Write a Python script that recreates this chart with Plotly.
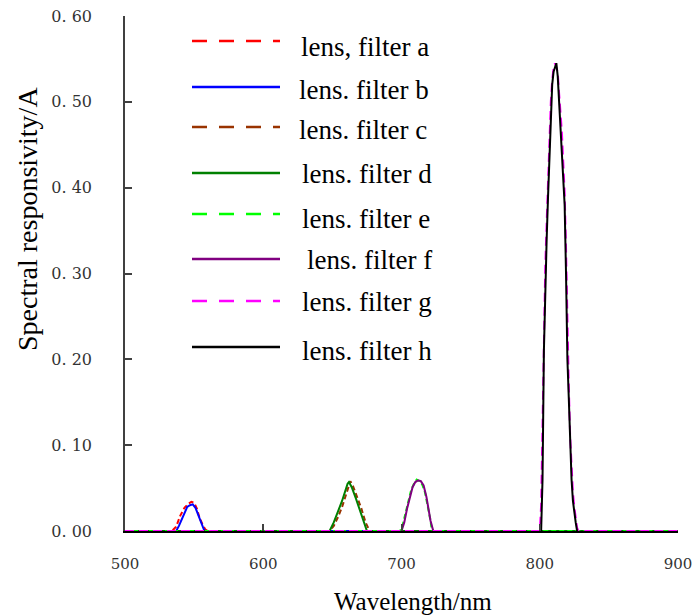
import plotly.graph_objects as go

# ---------------- data ----------------
names = ["lens, filter a", "lens. filter b", "lens. filter c", "lens. filter d",
         "lens. filter e", "lens. filter f", "lens. filter g", "lens. filter h"]

a_wl = [500, 534, 537, 540, 543, 546, 548, 550, 552, 554, 556, 558, 560, 900]
a_val = [0, 0, 0.005, 0.018, 0.027, 0.032, 0.034, 0.033, 0.026, 0.015, 0.008, 0.002, 0, 0]

b_wl = [500, 537, 539, 541, 543, 545, 547, 549, 551, 553, 555, 557, 558, 900]
b_val = [0, 0, 0.006, 0.014, 0.022, 0.028, 0.030, 0.031, 0.027, 0.018, 0.009, 0.002, 0, 0]

c_wl = [500, 648, 651, 654, 657, 660, 662, 663, 665, 668, 671, 674, 677, 900]
c_val = [0, 0, 0.006, 0.016, 0.028, 0.043, 0.054, 0.058, 0.052, 0.040, 0.026, 0.010, 0, 0]

d_wl = [500, 648, 651, 654, 657, 660, 661, 662, 664, 667, 670, 673, 675, 900]
d_val = [0, 0, 0.010, 0.022, 0.035, 0.050, 0.055, 0.057, 0.051, 0.038, 0.024, 0.009, 0, 0]

e_wl = [500, 699, 701, 703, 705, 707, 709, 711, 713, 715, 717, 719, 721, 722, 900]
e_val = [0, 0, 0.008, 0.022, 0.036, 0.048, 0.055, 0.060, 0.058, 0.054, 0.045, 0.030, 0.012, 0, 0]

f_wl = [700, 702, 704, 706, 708, 710, 712, 714, 716, 718, 720, 721, 723]
f_val = [0, 0.010, 0.026, 0.040, 0.051, 0.057, 0.059, 0.058, 0.053, 0.040, 0.022, 0.012, 0]

g_wl = [500, 800, 801, 802, 803, 804, 805, 806, 807, 808, 809, 810, 811, 812, 813, 814,
        815, 816, 817, 818, 819, 820, 821, 822, 823, 824, 825, 826, 827, 828, 900]
g_val = [0, 0, 0.03, 0.12, 0.24, 0.31, 0.36, 0.41, 0.45, 0.50, 0.525, 0.54, 0.545, 0.54,
         0.535, 0.51, 0.49, 0.465, 0.43, 0.395, 0.33, 0.24, 0.17, 0.11, 0.075, 0.045,
         0.028, 0.014, 0.004, 0, 0]

h_wl = [801, 802, 803, 804, 805, 806, 807, 808, 809, 810, 811, 812, 813, 814, 815, 816,
        817, 818, 819, 820, 821, 822, 823, 824, 825, 826, 827]
h_val = [0, 0.06, 0.21, 0.29, 0.34, 0.39, 0.435, 0.49, 0.52, 0.535, 0.54, 0.545, 0.53,
         0.50, 0.475, 0.455, 0.42, 0.38, 0.30, 0.20, 0.155, 0.10, 0.06, 0.035, 0.02, 0.01, 0]

y_tickvals = [0, 0.1, 0.2, 0.3, 0.4, 0.5, 0.6]
y_ticktext = ["0. 00", "0. 10", "0. 20", "0. 30", "0. 40", "0. 50", "0. 60"]
x_tickvals = [500, 600, 700, 800, 900]
x_ticktext = ["500", "600", "700", "800", "900"]

# ---------------- styles ----------------
series = [(a_wl, a_val), (b_wl, b_val), (c_wl, c_val), (d_wl, d_val),
          (e_wl, e_val), (f_wl, f_val), (g_wl, g_val), (h_wl, h_val)]
colors = ["#ff0000", "#0000ff", "#993300", "#008000", "#00ff00", "#800080", "#ff00ff", "#000000"]
dashes = ["15px,12px", "solid", "15px,12px", "solid", "15px,12px", "solid", "15px,12px", "solid"]
plot_dashes = ["5px,3px", "solid", "5px,3px", "solid", "5px,3px", "solid", "9px,5px", "solid"]

fig = go.Figure()
for (wl, val), nm, col, ds in zip(series, names, colors, plot_dashes):
    fig.add_trace(go.Scatter(x=wl, y=val, name=nm, mode="lines",
                             line=dict(color=col, width=2, dash=ds),
                             showlegend=False))

# ---------------- geometry (page pixels; body margin removed by post_script) ----------------
FIG_W, FIG_H = 694, 616
L, T, W, H = 125, 16, 553, 515   # plot area in pixels
def px2x(px): return (px - L) / W
def py2y(py): return (T + H - py) / H

# ---------------- custom legend (keys + labels) ----------------
line_rows = [41, 87, 127, 173, 214, 259, 301, 347]
text_rows = [47, 90, 130, 174, 219, 260, 302, 351]
text_x = [299, 297, 297, 300, 300, 305, 300, 300]
for i, nm in enumerate(names):
    fig.add_shape(type="line", xref="paper", yref="paper",
                  x0=px2x(192), x1=px2x(280), y0=py2y(line_rows[i]), y1=py2y(line_rows[i]),
                  line=dict(color=colors[i], width=2.5, dash=dashes[i]))
    fig.add_annotation(xref="paper", yref="paper", x=px2x(text_x[i]), y=py2y(text_rows[i]),
                       text=nm, showarrow=False, xanchor="left", yanchor="middle",
                       font=dict(family="Liberation Serif", size=27, color="#000000"))

# axis titles
fig.add_annotation(xref="paper", yref="paper", x=px2x(413), y=py2y(601),
                   text="Wavelength/nm", showarrow=False, xanchor="center", yanchor="middle",
                   font=dict(family="Liberation Serif", size=25, color="#000000"))
fig.add_annotation(xref="paper", yref="paper", x=px2x(27), y=py2y(219),
                   text="Spectral responsivity/A", showarrow=False, textangle=-90,
                   xanchor="center", yanchor="middle",
                   font=dict(family="Liberation Serif", size=28, color="#000000"))

fig.update_layout(
    width=FIG_W, height=FIG_H,
    margin=dict(l=L, r=FIG_W - L - W, t=T, b=FIG_H - T - H, pad=0, autoexpand=False),
    paper_bgcolor="white", plot_bgcolor="white",
    showlegend=False,
)
fig.update_xaxes(range=[500, 900], tickvals=x_tickvals, ticktext=x_ticktext, automargin=False,
                 showgrid=False, zeroline=False, showline=True, linecolor="#000000", linewidth=2,
                 ticks="inside", ticklen=7, tickcolor="#404040", tickwidth=1.5,
                 ticklabelstandoff=18, ticklabeloverflow="allow",
                 tickfont=dict(family="DejaVu Serif", size=15, color="#333333"))
fig.update_yaxes(range=[0, 0.6], tickvals=y_tickvals, ticktext=y_ticktext, automargin=False,
                 showgrid=False, zeroline=False, showline=True, linecolor="#404040", linewidth=1.5,
                 ticks="inside", ticklen=7, tickcolor="#404040", tickwidth=1.5,
                 ticklabelstandoff=28, ticklabeloverflow="allow",
                 tickfont=dict(family="DejaVu Serif", size=16, color="#333333"))

fig.write_html("out.html", config={"displayModeBar": False},
               post_script="document.body.style.margin='0';document.body.style.overflow='hidden';")
